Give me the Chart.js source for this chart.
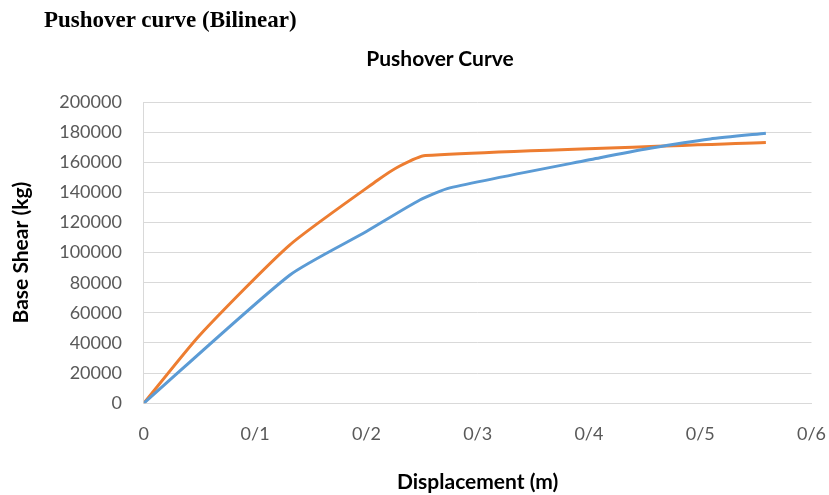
<!DOCTYPE html>
<html>
<head>
<meta charset="utf-8">
<script src="https://cdn.jsdelivr.net/npm/chart.js@4"></script>
<style>
  html, body { margin: 0; padding: 0; background: #fff; }
  #wrap { position: relative; width: 829px; height: 495px; }
  #heading { position: absolute; left: 44px; top: 7px; font: bold 23px "Liberation Serif", serif; color: #000; white-space: nowrap; }
  #chartTitle { position: absolute; left: 440px; top: 45px; transform: translateX(-50%); font: bold 21px Lato, sans-serif; color: #000; white-space: nowrap; }
  canvas { position: absolute; left: 0; top: 0; }
</style>
</head>
<body>
<div id="wrap">
  <canvas id="pushoverChart" width="829" height="495"></canvas>
  <div id="heading">Pushover curve (Bilinear)</div>
  <div id="chartTitle">Pushover Curve</div>
</div>
<script>
// values
const blueDisp  = [0, 0.131, 0.2, 0.248, 0.275, 0.41, 0.455, 0.509, 0.559];
const blueShear = [0, 85000, 114000, 134900, 143000, 163000, 169300, 175500, 179300];
const orangeDisp  = [0, 0.05, 0.131, 0.21, 0.23, 0.253, 0.559];
const orangeShear = [0, 45000, 105000, 148000, 157500, 164500, 173100];
const xTickLabels = ['0', '0/1', '0/2', '0/3', '0/4', '0/5', '0/6'];
const yTickLabels = ['0', '20000', '40000', '60000', '80000', '100000', '120000', '140000', '160000', '180000', '200000'];

function toPoints(xs, ys) {
    return xs.map((x, i) => ({ x: x, y: ys[i] }));
}

const tickFont = { family: 'Lato', size: 18 };
const titleFont = { family: 'Lato', size: 21, weight: 'bold' };

const ctx = document.getElementById('pushoverChart').getContext('2d');
const pushoverChart = new Chart(ctx, {
    type: 'line',
    data: {
        datasets: [{
            label: 'Pushover',
            data: toPoints(blueDisp, blueShear),
            borderColor: '#5B9BD5',
            borderWidth: 3,
            pointRadius: 0,
            fill: false,
            tension: 0.2
        }, {
            label: 'Bilinear',
            data: toPoints(orangeDisp, orangeShear),
            borderColor: '#ED7D31',
            borderWidth: 3,
            pointRadius: 0,
            fill: false,
            tension: 0.2
        }]
    },
    options: {
        responsive: false,
        animation: false,
        layout: { padding: { top: 102, left: 9, right: 2, bottom: 0 } },
        plugins: {
            legend: { display: false },
            tooltip: { enabled: false }
        },
        scales: {
            x: {
                type: 'linear',
                min: 0,
                max: 0.6,
                // invisible tick marks give the gap under the axis
                grid: { display: false, drawTicks: true, tickLength: 17 },
                border: { color: '#d9d9d9', width: 1 },
                ticks: {
                    stepSize: 0.1,
                    padding: 3,
                    color: '#595959',
                    font: tickFont,
                    callback: (v, i) => xTickLabels[i]
                },
                title: {
                    display: true,
                    text: 'Displacement (m)',
                    color: '#000',
                    font: titleFont,
                    padding: { top: 22, bottom: 0 }
                }
            },
            y: {
                min: 0,
                max: 200000,
                grid: { color: '#d9d9d9', lineWidth: 1, drawTicks: false },
                border: { color: '#d9d9d9', width: 1 },
                ticks: {
                    stepSize: 20000,
                    padding: 22,
                    color: '#595959',
                    font: tickFont,
                    callback: (v, i) => yTickLabels[i]
                },
                title: {
                    display: true,
                    text: 'Base Shear (kg)',
                    color: '#000',
                    font: titleFont,
                    padding: { top: 0, bottom: 3 }
                }
            }
        }
    }
});
</script>
</body>
</html>
